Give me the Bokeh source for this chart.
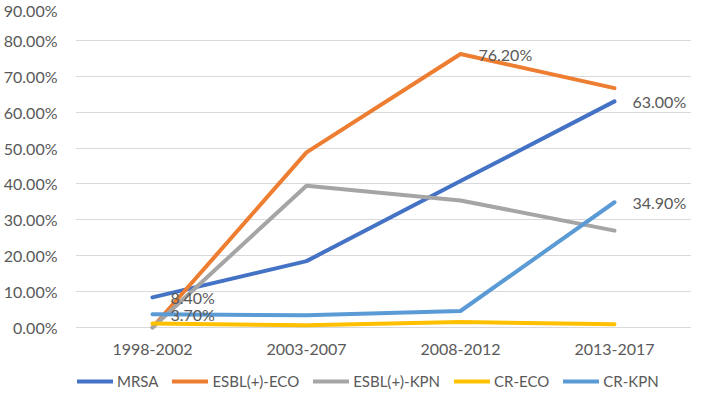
from bokeh.plotting import figure
from bokeh.models import (FixedTicker, NumeralTickFormatter, Range1d, FactorRange,
                          Legend, LegendItem, ColumnDataSource)
from bokeh.core.properties import value
from bokeh.embed import file_html
from bokeh.resources import INLINE

# ---- data (percent) ----
periods = ["1998-2002", "2003-2007", "2008-2012", "2013-2017"]
series_names = ["MRSA", "ESBL(+)-ECO", "ESBL(+)-KPN", "CR-ECO", "CR-KPN"]
mrsa = [8.4, 18.5, 40.8, 63.0]
esbl_eco = [0.0, 48.8, 76.2, 66.7]
esbl_kpn = [0.0, 39.5, 35.4, 27.0]
cr_eco = [1.1, 0.6, 1.5, 0.9]
cr_kpn = [3.7, 3.4, 4.6, 34.9]
y_ticks = [0, 10, 20, 30, 40, 50, 60, 70, 80, 90]
# data labels shown: (series index, period index)
label_points = [(0, 0), (4, 0), (1, 2), (0, 3), (4, 3)]

colors = ["#4472C4", "#ED7D31", "#A5A5A5", "#FFC000", "#5B9BD5"]
all_series = [mrsa, esbl_eco, esbl_kpn, cr_eco, cr_kpn]

FONT = "Lato"
TXT = "#595959"

# room under the 0 line (inside the frame) for category labels and legend
y_low = -0.1839

p = figure(width=691, height=393, x_range=FactorRange(*periods, range_padding=0),
           y_range=Range1d(y_low, 0.9), output_backend="svg", toolbar_location=None,
           min_border_left=64, min_border_right=0, min_border_top=4,
           min_border_bottom=0)
p.x_range.factor_padding = 0
p.outline_line_color = None
p.background_fill_color = "white"

p.xgrid.grid_line_color = None
p.ygrid.grid_line_color = "#D9D9D9"
p.ygrid.grid_line_width = 1
p.yaxis.ticker = FixedTicker(ticks=[t / 100 for t in y_ticks])
p.yaxis.formatter = NumeralTickFormatter(format="0.00%")
p.yaxis.axis_line_color = None
p.yaxis.major_tick_line_color = None
p.yaxis.minor_tick_line_color = None
p.yaxis.major_label_text_font = FONT
p.yaxis.major_label_text_font_size = "16px"
p.yaxis.major_label_text_color = TXT
p.yaxis.major_label_standoff = 12
p.xaxis.visible = False

# category labels under the zero line
p.text(x=periods, y=[0] * len(periods), text=periods, y_offset=22,
       text_baseline="middle", text_align="center",
       text_font=value(FONT), text_font_size="16px", text_color=TXT)

renderers = []
for name, vals, c in zip(series_names, all_series, colors):
    src = ColumnDataSource(dict(x=periods, y=[v / 100 for v in vals]))
    r = p.line("x", "y", source=src, line_color=c, line_width=4, line_join="round",
               line_cap="round")
    renderers.append(r)

lx = [periods[j] for i, j in label_points]
ly = [all_series[i][j] / 100 for i, j in label_points]
lt = ["{:.2f}%".format(all_series[i][j]) for i, j in label_points]
p.text(x=lx, y=ly, text=lt, x_offset=18, text_baseline="middle", text_align="left",
       text_font=value(FONT), text_font_size="16px", text_color=TXT)

legend = Legend(items=[LegendItem(label=n, renderers=[r]) for n, r in zip(series_names, renderers)],
                orientation="horizontal", location=(2, 2),
                glyph_width=36, glyph_height=20, label_standoff=4, spacing=14,
                padding=0, margin=0, border_line_color=None, background_fill_alpha=0,
                label_text_font=FONT, label_text_font_size="15px", label_text_color=TXT)
p.add_layout(legend)

open("out.html", "w").write(file_html(p, INLINE))
